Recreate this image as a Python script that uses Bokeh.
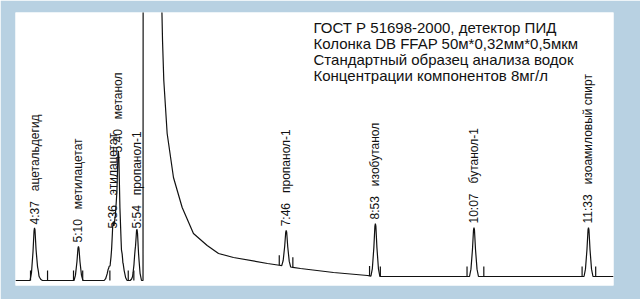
import numpy as np
from bokeh.plotting import figure
from bokeh.models import Range1d, Label
from bokeh.core.properties import value
from bokeh.embed import file_html
from bokeh.resources import INLINE

NB = "\u00a0"

# ---- data ----
# labelled peaks: retention time (min), height above local baseline (a.u.)
peak_times = [4.617, 5.167, 5.600, 5.667, 5.900, 7.767, 8.883, 10.117, 11.550]
peak_heights = [52, 34, 48, 124, 48, 36, 53, 49, 49]
peak_codes = ["4:37", "5:10", "5:36", "5:40", "5:54", "7:46", "8:53", "10:07", "11:33"]
peak_names = ["ацетальдегид", "метилацетат", "этилацетат", "метанол", "пропанол-1",
              "пропанол-1", "изобутанол", "бутанол-1", "изоамиловый спирт"]

# small unlabelled peaks
minor_times = [4.66, 5.545, 5.63, 5.72, 5.87]
minor_heights = [6, 12, 30, 18, 10]

# integration markers (start / end of peaks)
marker_times = [4.567, 4.78, 5.105, 5.22, 5.56, 5.79, 5.86, 7.68, 7.85,
                8.81, 8.945, 10.03, 10.24, 11.47, 11.64]

# solvent peak (off scale) and its tail
tail_t = [4.379, 5.975, 5.985, 6.200, 6.206, 6.219, 6.235, 6.277, 6.356, 6.465,
          6.606, 6.778, 6.920, 7.107, 7.533, 7.946, 8.359, 8.784, 8.847, 11.863]
tail_y = [0, 0, 2000, 2000, 290, 240, 200, 147, 103, 73,
          47, 35, 27, 23, 17, 12, 8, 5, 4, 4]

header_lines = ["ГОСТ Р 51698-2000, детектор ПИД",
                "Колонка DB FFAP 50м*0,32мм*0,5мкм",
                "Стандартный образец анализа водок",
                "Концентрации компонентов 8мг/л"]

# ---- peak shape (style) ----
shape_dt = np.array([-0.056, -0.038, -0.019, -0.006, 0.0, 0.006, 0.019, 0.038, 0.056])
shape_rel = np.array([0.0, 0.15, 0.55, 0.95, 1.0, 0.95, 0.55, 0.15, 0.0])

tail_t_arr = np.array(tail_t)
tail_y_arr = np.array(tail_y, dtype=float)

all_t = list(tail_t)
for t in peak_times + minor_times:
    all_t += list(t + shape_dt)
all_t += marker_times
all_t = np.unique(np.array(all_t))

signal = np.interp(all_t, tail_t_arr, tail_y_arr)
for t, h in zip(peak_times + minor_times, peak_heights + minor_heights):
    signal += np.interp(all_t, t + shape_dt, h * shape_rel, left=0, right=0)

def base(t):
    return np.interp(t, tail_t_arr, tail_y_arr)

p = figure(width=640, height=299, output_backend="svg", toolbar_location=None,
           x_range=Range1d(4.379, 11.863), y_range=Range1d(-5, 268))
p.min_border_left = 15
p.min_border_right = 27
p.min_border_top = 12
p.min_border_bottom = 14
p.xaxis.visible = False
p.yaxis.visible = False
p.xgrid.visible = False
p.ygrid.visible = False
p.outline_line_color = None
p.background_fill_color = "white"
p.border_fill_color = "#b8d1e2"

p.line(all_t, signal, line_color="#111111", line_width=1.2)

mt = np.array(marker_times)
mb = base(mt)
p.segment(x0=mt, y0=mb, x1=mt, y1=mb + 10, line_color="#111111", line_width=1.2)

pt = np.array(peak_times)
tops = base(pt) + np.array(peak_heights) + 4
labels = [c + NB * 3 + n for c, n in zip(peak_codes, peak_names)]
p.text(x=pt, y=tops, text=labels, angle=np.pi / 2, text_align="left",
       text_baseline="middle", text_font=value("Liberation Sans"),
       text_font_size="12px", text_color="#111111")

for i, line in enumerate(header_lines):
    p.add_layout(Label(x=298, y=258 - 16 * i, x_units="screen", y_units="screen",
                       text=line, text_font="Liberation Sans", text_font_size="15px",
                       text_baseline="middle", text_color="#111111"))

open("out.html", "w").write(file_html(p, INLINE))
